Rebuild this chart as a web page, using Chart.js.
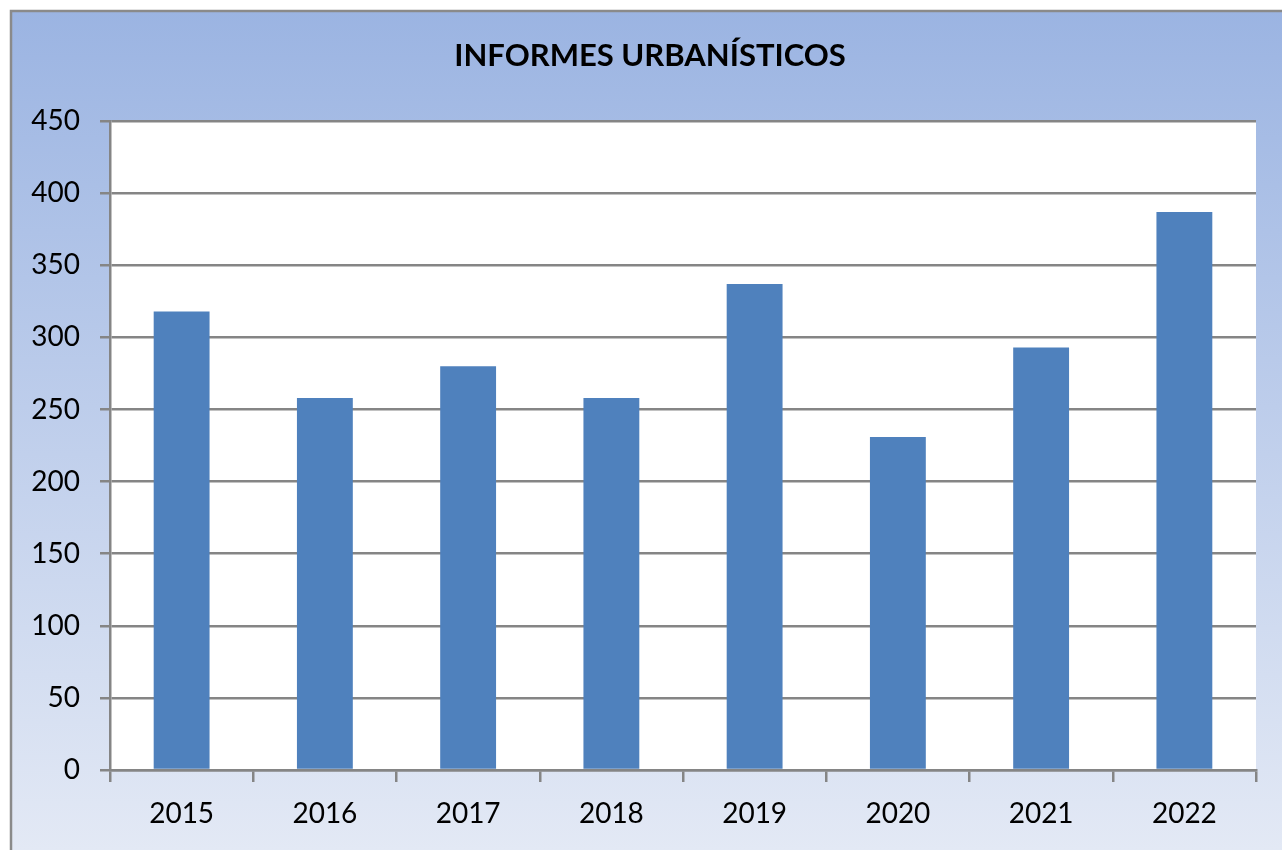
<!DOCTYPE html>
<html>
<head>
<meta charset="utf-8">
<script src="https://cdn.jsdelivr.net/npm/chart.js@4/dist/chart.umd.min.js"></script>
<style>
html,body{margin:0;padding:0;background:#fff;}
#wrap{position:absolute;left:0;top:0;width:1282px;height:850px;}
</style>
</head>
<body>
<div id="wrap"><canvas id="c" width="1282" height="850"></canvas></div>
<script>
const categories = ['2015','2016','2017','2018','2019','2020','2021','2022'];
const values = [318, 258, 280, 258, 337, 231, 293, 387];
const yTicks = [0, 50, 100, 150, 200, 250, 300, 350, 400, 450];
const chartTitle = 'INFORMES URBANÍSTICOS';

const bgPlugin = {
  id: 'bg',
  beforeDraw(chart) {
    const ctx = chart.ctx;
    ctx.save();
    const g = ctx.createLinearGradient(0, 10, 0, 850);
    g.addColorStop(0, '#9bb4e2');
    g.addColorStop(1, '#e3e9f5');
    ctx.fillStyle = g;
    ctx.fillRect(11, 11, chart.width - 11, chart.height - 11);
    ctx.strokeStyle = '#8a8a8a';
    ctx.lineWidth = 2.5;
    ctx.beginPath();
    ctx.moveTo(11, chart.height + 5);
    ctx.lineTo(11, 11);
    ctx.lineTo(chart.width + 5, 11);
    ctx.stroke();
    const a = chart.chartArea;
    ctx.fillStyle = '#ffffff';
    ctx.fillRect(a.left, a.top, a.right - a.left, a.bottom - a.top);
    ctx.restore();
  }
};

const font = "Lato, 'Open Sans', sans-serif";

new Chart(document.getElementById('c'), {
  type: 'bar',
  data: {
    labels: categories,
    datasets: [{
      data: values,
      backgroundColor: '#4f81bd',
      borderWidth: 0,
      barPercentage: 0.39,
      categoryPercentage: 1.0
    }]
  },
  options: {
    responsive: false,
    animation: false,
    layout: { padding: { left: 18, right: 0, top: 0, bottom: 0 } },
    plugins: {
      legend: { display: false },
      tooltip: { enabled: false },
      title: {
        display: true,
        text: chartTitle,
        color: '#000',
        font: { family: font, size: 31, weight: 'bold', lineHeight: 1.2 },
        padding: { top: 37, bottom: 47 }
      }
    },
    scales: {
      x: {
        offset: true,
        grid: {
          offset: true,
          drawOnChartArea: false,
          drawTicks: true,
          tickLength: 12,
          color: '#858585',
          lineWidth: 2.5
        },
        border: { display: true, color: '#858585', width: 2.5 },
        ticks: { color: '#000', font: { family: font, size: 28 }, padding: 15 },
        afterFit(scale) { scale.height = 80; }
      },
      y: {
        min: 0,
        max: 450,
        afterBuildTicks(scale) { scale.ticks = yTicks.map(v => ({ value: v })); },
        grid: {
          color: '#858585',
          lineWidth: 2.5,
          drawTicks: true,
          tickLength: 10
        },
        border: { display: true, color: '#858585', width: 2.5 },
        ticks: { color: '#000', font: { family: font, size: 28 }, padding: 20 },
        afterFit(scale) { scale.width = 92; }
      },
      yRightSpace: {
        position: 'right',
        display: true,
        grid: { display: false, drawTicks: false },
        border: { display: false },
        ticks: { display: false },
        afterFit(scale) { scale.width = 26; }
      }
    }
  },
  plugins: [bgPlugin]
});
</script>
</body>
</html>
